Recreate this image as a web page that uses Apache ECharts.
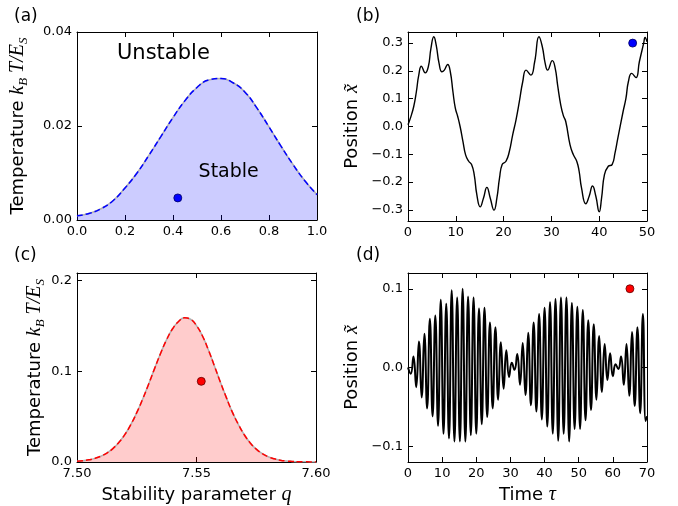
<!DOCTYPE html>
<html><head><meta charset="utf-8">
<script src="https://cdn.jsdelivr.net/npm/echarts@6/dist/echarts.min.js"></script>
<style>html,body{margin:0;padding:0;background:#fff}#c{width:678px;height:506px}</style>
</head><body><div id="c"></div>
<script>
// ---- Panel (a): stability diagram ----
const qA = [0,0.05,0.1,0.15,0.2,0.25,0.3,0.35,0.4,0.45,0.5,0.55,0.6,0.65,0.7,0.75,0.8,0.85,0.9,0.95,1.0];
const tA = [0.0009,0.0014,0.0024,0.0041,0.0068,0.0100,0.0138,0.0178,0.0218,0.0254,0.0282,0.0298,0.0301,0.0292,0.0272,0.0238,0.0198,0.0157,0.0118,0.0083,0.0054];
const dotA = [0.42, 0.0047];
const textA = [{name:'Unstable', q:0.36, T:0.0355, size:21},{name:'Stable', q:0.632, T:0.0101, size:19}];
const xTicksA = [0,0.2,0.4,0.6,0.8,1.0];
const xLabelsA = ['0.0','0.2','0.4','0.6','0.8','1.0'];
const yTicksA = [0,0.02,0.04];
const yLabelsA = ['0.00','0.02','0.04'];

// ---- Panel (b): trajectory ----
const tB = [0,0.5,1.2,1.75,2.25,2.8,3.6,4.25,4.8,5.4,5.9,6.5,7.1,7.6,8.3,8.85,9.4,9.9,10.4,10.9,11.5,12.05,12.7,13.3,13.85,14.4,15.1,15.8,16.5,17.2,18.0,18.6,19.15,19.7,20.5,21.2,21.9,22.6,23.3,24.0,24.7,25.7,26.5,27.4,28.1,28.7,29.2,30.2,30.8,31.3,31.95,32.5,33.0,33.9,34.6,35.3,35.8,36.3,37.2,37.9,38.6,39.3,40.0,40.5,41.1,41.9,42.7,43.3,43.9,45.0,45.6,46.1,46.8,47.7,48.4,49.3,49.6,50.0];
const xB = [0.006,0.030,0.072,0.125,0.185,0.217,0.193,0.215,0.281,0.323,0.293,0.227,0.197,0.203,0.223,0.197,0.125,0.066,0.036,0.000,-0.054,-0.102,-0.125,-0.137,-0.173,-0.245,-0.289,-0.257,-0.219,-0.257,-0.301,-0.257,-0.185,-0.137,-0.125,-0.090,-0.030,0.024,0.090,0.161,0.203,0.185,0.233,0.323,0.287,0.227,0.203,0.237,0.209,0.149,0.078,0.039,0.018,-0.066,-0.102,-0.125,-0.161,-0.221,-0.278,-0.251,-0.214,-0.251,-0.307,-0.257,-0.173,-0.143,-0.137,-0.096,-0.042,0.054,0.102,0.161,0.191,0.176,0.233,0.299,0.320,0.305];
const dotB = [47, 0.30];
const xTicksB = [0,10,20,30,40,50];
const xLabelsB = ['0','10','20','30','40','50'];
const yTicksB = [-0.3,-0.2,-0.1,0,0.1,0.2,0.3];
const yLabelsB = ['\u22120.3','\u22120.2','\u22120.1','0.0','0.1','0.2','0.3'];

// ---- Panel (c): stability diagram, high q ----
const qC = [7.5000,7.5025,7.5050,7.5075,7.5100,7.5125,7.5150,7.5175,7.5200,7.5225,7.5250,7.5275,7.5300,7.5325,7.5350,7.5375,7.5400,7.5425,7.5450,7.5475,7.5500,7.5525,7.5550,7.5575,7.5600,7.5625,7.5650,7.5675,7.5700,7.5725,7.5750,7.5775,7.5800,7.5825,7.5850,7.5875,7.5900,7.5925,7.5950,7.5975,7.6000];
const tC = [0.0008,0.0014,0.0024,0.0040,0.0064,0.0099,0.0148,0.0215,0.0302,0.0412,0.0544,0.0695,0.0861,0.1033,0.1200,0.1350,0.1470,0.1550,0.1590,0.1575,0.1505,0.1390,0.1235,0.1060,0.0880,0.0710,0.0550,0.0415,0.0300,0.0210,0.0142,0.0093,0.0058,0.0035,0.0020,0.0011,0.0006,0.0003,0.0002,0.0001,0.0000];
const dotC = [7.552, 0.089];
const xTicksC = [7.50,7.55,7.60];
const xLabelsC = ['7.50','7.55','7.60'];
const yTicksC = [0,0.1,0.2];
const yLabelsC = ['0.0','0.1','0.2'];

// ---- Panel (d): trajectory ----
const tD = [0,0.8,1.6,2.4,3.2,4.0,4.8,5.6,6.4,7.2,8.0,8.8,9.6,10.4,11.2,12.0,12.8,13.6,14.4,15.2,16.0,16.8,17.6,18.4,19.2,20.0,20.8,21.6,22.4,23.2,24.0,24.8,25.6,26.4,27.2,28.0,28.8,29.6,30.4,31.2,32.0,32.8,33.6,34.4,35.2,36.0,36.8,37.6,38.4,39.2,40.0,40.8,41.6,42.4,43.2,44.0,44.8,45.6,46.4,47.2,48.0,48.8,49.6,50.4,51.2,52.0,52.8,53.6,54.4,55.2,56.0,56.8,57.6,58.4,59.2,60.0,60.8,61.6,62.4,63.2,64.0,64.8,65.6,66.4,67.2,68.0,68.8,69.6,70.0];
const xD = [0.000,-0.008,0.014,-0.025,0.033,-0.038,0.043,-0.052,0.062,-0.062,0.066,-0.074,0.086,-0.084,0.081,-0.090,0.098,-0.094,0.089,-0.094,0.100,-0.094,0.090,-0.086,0.089,-0.084,0.075,-0.072,0.076,-0.063,0.057,-0.052,0.051,-0.041,0.032,-0.027,0.022,-0.012,0.006,-0.003,0.017,-0.022,0.031,-0.035,0.044,-0.048,0.057,-0.056,0.068,-0.066,0.076,-0.075,0.083,-0.084,0.087,-0.093,0.089,-0.084,0.089,-0.094,0.082,-0.078,0.077,-0.078,0.073,-0.067,0.060,-0.054,0.055,-0.041,0.040,-0.031,0.030,-0.016,0.018,-0.011,0.004,-0.002,0.014,-0.022,0.030,-0.036,0.045,-0.049,0.051,-0.058,0.068,-0.068,-0.062];
const dotD = [65, 0.10];
const xTicksD = [0,10,20,30,40,50,60,70];
const xLabelsD = ['0','10','20','30','40','50','60','70'];
const yTicksD = [-0.1,0,0.1];
const yLabelsD = ['\u22120.1','0.0','0.1'];

const panelLabels = ['(a)','(b)','(c)','(d)'];

// ---------- build ----------
const zip = (a,b) => a.map((v,i)=>[v,b[i]]);
const FONT = 'DejaVu Sans';
const MATH = 'Liberation Serif';
function lab(v, ticks, labels){
  for (let i=0;i<ticks.length;i++) if (Math.abs(v-ticks[i])<1e-7) return labels[i];
  return '';
}
const nameStyle = {
  fontFamily: FONT, fontSize: 18, color:'#000',
  rich: {
    n: {fontFamily: FONT, fontSize: 18, color:'#000', lineHeight: 24},
    i: {fontFamily: MATH, fontStyle:'italic', fontSize: 20, color:'#000', lineHeight: 24},
    s: {fontFamily: MATH, fontStyle:'italic', fontSize: 13, color:'#000', lineHeight: 13, verticalAlign:'bottom'}
  }
};
function axis(grid, min, max, ticks, labels, pos, showLabel, name, gap){
  const o = {
    type:'value', gridIndex:grid, min:min, max:max, position:pos,
    axisLine:{show:true, onZero:false, lineStyle:{color:'#000', width:1}},
    axisTick:{show:true, inside:true, length:5, customValues:ticks, lineStyle:{color:'#000', width:1}},
    axisLabel:{show:showLabel, customValues:ticks, formatter:(v)=>lab(v,ticks,labels),
      fontFamily:FONT, fontSize:13, color:'#000', margin:5},
    splitLine:{show:false}
  };
  if (name){
    o.name = name; o.nameLocation='middle'; o.nameGap = gap; o.nameTextStyle = nameStyle;
    if (pos==='left') o.nameRotate = 90;
  }
  return o;
}
const G = [
  {left:77, top:32, width:240, height:188},
  {left:408, top:32, width:239, height:189},
  {left:77, top:273, width:239, height:189},
  {left:408, top:273, width:239, height:189}
];
const yName = '{n|Temperature }{i|k}{s|B}{i| T/E}{s|S}';
const pName = '{n|Position }{i|x\u0303}';
const xAxes = [
  axis(0,0,1,xTicksA,xLabelsA,'bottom',true),
  axis(1,0,50,xTicksB,xLabelsB,'bottom',true),
  axis(2,7.5,7.6,xTicksC,xLabelsC,'bottom',true,'{n|Stability parameter }{i|q}',21),
  axis(3,0,70,xTicksD,xLabelsD,'bottom',true,'{n|Time }{i|\u03c4}',21),
  axis(0,0,1,xTicksA,xLabelsA,'top',false),
  axis(1,0,50,xTicksB,xLabelsB,'top',false),
  axis(2,7.5,7.6,xTicksC,xLabelsC,'top',false),
  axis(3,0,70,xTicksD,xLabelsD,'top',false)
];
const yAxes = [
  axis(0,0,0.04,yTicksA,yLabelsA,'left',true,yName,47),
  axis(1,-0.34,0.34,yTicksB,yLabelsB,'left',true,pName,44),
  axis(2,0,0.2085,yTicksC,yLabelsC,'left',true,yName,30),
  axis(3,-0.12,0.12,yTicksD,yLabelsD,'left',true,pName,44),
  axis(0,0,0.04,yTicksA,yLabelsA,'right',false),
  axis(1,-0.34,0.34,yTicksB,yLabelsB,'right',false),
  axis(2,0,0.2085,yTicksC,yLabelsC,'right',false),
  axis(3,-0.12,0.12,yTicksD,yLabelsD,'right',false)
];
function boundary(idx, q, T, fill, dash){
  return [
    {type:'line', xAxisIndex:idx, yAxisIndex:idx, data:zip(q,T), smooth:true, symbol:'none', z:2,
      lineStyle:{color:'#b0b0b0', width:1.5}, areaStyle:{color:fill, opacity:1}},
    {type:'line', xAxisIndex:idx, yAxisIndex:idx, data:zip(q,T), smooth:true, symbol:'none', z:3,
      lineStyle:{color:dash, width:1.5, type:[6,3]}}
  ];
}
function dot(idx, p, color, border){
  return {type:'scatter', xAxisIndex:idx, yAxisIndex:idx, data:[p], symbolSize:8, z:5,
    itemStyle:{color:color, borderColor:border, borderWidth:0.8, opacity:1}};
}
const series = [
  ...boundary(0, qA, tA, 'rgba(0,0,255,0.2)', '#0000ff'),
  dot(0, dotA, '#0000ff', '#000060'),
  {type:'line', xAxisIndex:1, yAxisIndex:1, data:zip(tB,xB), smooth:true, symbol:'none', z:2,
    lineStyle:{color:'#000', width:1.4}},
  dot(1, dotB, '#0000ff', '#000060'),
  ...boundary(2, qC, tC, 'rgba(255,0,0,0.2)', '#ff0000'),
  dot(2, dotC, '#ff0000', '#600000'),
  {type:'line', xAxisIndex:3, yAxisIndex:3, data:zip(tD,xD), smooth:true, symbol:'none', z:2,
    lineStyle:{color:'#000', width:2}},
  dot(3, dotD, '#ff0000', '#600000')
];
const labelPos = [[14,8],[356,8],[14,247],[356,247]];
const graphic = panelLabels.map((t,i)=>({type:'text', left:labelPos[i][0], top:labelPos[i][1],
  style:{text:t, font:'17px "DejaVu Sans"', fill:'#000'}}));

const chart = echarts.init(document.getElementById('c'), null, {renderer:'canvas'});
chart.setOption({
  animation:false, backgroundColor:'#fff',
  grid:G, xAxis:xAxes, yAxis:yAxes, series:series, graphic:graphic
});
// region annotations placed at data coordinates of panel (a)
const annot = textA.map(t=>{
  const p = chart.convertToPixel({xAxisIndex:0, yAxisIndex:0}, [t.q, t.T]);
  return {type:'text', x:p[0], y:p[1], z:10,
    style:{text:t.name, font:t.size+'px "DejaVu Sans"', fill:'#000', align:'center', verticalAlign:'middle'}};
});
chart.setOption({graphic: graphic.concat(annot)});
</script></body></html>
